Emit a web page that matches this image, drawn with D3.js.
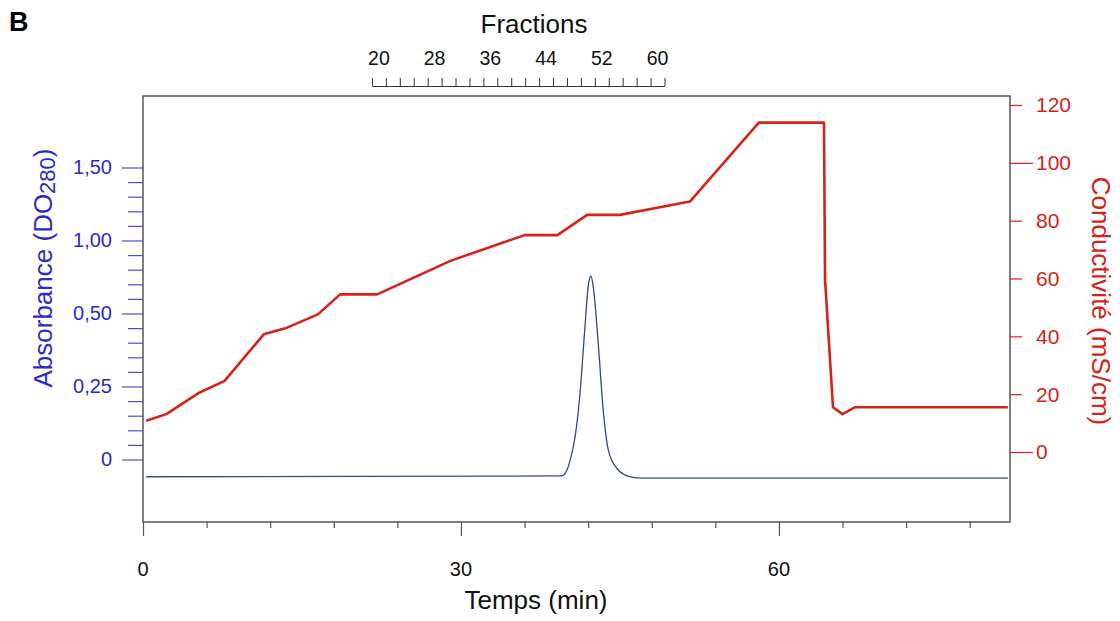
<!DOCTYPE html>
<html>
<head>
<meta charset="utf-8">
<script src="https://cdn.jsdelivr.net/npm/d3@7"></script>
<style>
  body { margin: 0; background: #fff; }
  svg { display: block; font-family: "Liberation Sans", Arial, sans-serif; }
</style>
</head>
<body>
<div id="chart"></div>
<script>
// conductivity trace (mS/cm) against time (min)
var condTime  = [0.3, 2.2, 5.2, 7.7, 11.4, 13.6, 16.5, 18.6, 22.1, 29.0, 36.0, 39.1, 41.9, 45.0, 51.6, 58.1, 64.25, 64.35, 65.1, 66.0, 67.2, 81.6];
var condValue = [10.8, 13.1, 20.3, 24.6, 40.7, 43.0, 47.6, 54.5, 54.5, 66.1, 75.0, 75.0, 82.0, 82.0, 86.6, 113.9, 113.9, 59.5, 15.5, 13.1, 15.5, 15.5];

// absorbance trace (DO280) against time (min)
var absTime  = [0.3, 20.0, 39.5, 40.0, 40.3, 40.6, 40.9, 41.23, 41.7, 42.0, 42.26, 42.48, 42.95, 43.42, 43.9, 44.7, 45.9, 46.9, 81.6];
var absValue = [-0.059, -0.058, -0.056, -0.036, -0.002, 0.044, 0.112, 0.227, 0.455, 0.684, 0.757, 0.684, 0.398, 0.170, 0.033, -0.030, -0.059, -0.064, -0.064];

var timeTicks = [0, 6, 12, 18, 24, 30, 36, 42, 48, 54, 60, 66, 72, 78];
var timeLabels = [0, 30, 60];

var absTickValues = [0, 0.25, 0.5, 1, 1.5];
var absTickLabels = ["0", "0,25", "0,50", "1,00", "1,50"];

var condTicks = [0, 20, 40, 60, 80, 100, 120];
var condLongTicks = [0, 100];

var fractionTicks = [19, 21, 23, 25, 27, 29, 31, 33, 35, 37, 39, 41, 43, 45, 47, 49, 51, 53, 55, 57, 59, 61];
var fractionLabels = [20, 28, 36, 44, 52, 60];
var fractionRange = [21.6, 49.2]; // time (min) covered by fractions 19..61

var blue = "#2b2bc8", blueTick = "#4c4cd8", red = "#d42318", gray = "#555";

var svg = d3.select("#chart")
    .append("svg")
    .attr("width", 1120)
    .attr("height", 621);

var x = d3.scaleLinear().domain([0, 81.8]).range([143, 1010]);
// the printed absorbance axis is not evenly spaced, so the scale is piecewise
var yAbs = d3.scaleLinear().domain(absTickValues).range([459.5, 386.5, 313.5, 240.5, 167.5]);
var yCond = d3.scaleLinear().domain([0, 120]).range([452, 105]);
var xFrac = d3.scaleLinear().domain([19, 61]).range([x(fractionRange[0]), x(fractionRange[1])]);

var plotTop = 96, plotBottom = 522;

// frame
svg.append("rect")
    .attr("x", x.range()[0])
    .attr("y", plotTop)
    .attr("width", x.range()[1] - x.range()[0])
    .attr("height", plotBottom - plotTop)
    .attr("fill", "none")
    .attr("stroke", gray)
    .attr("stroke-width", 1.5);

// bottom time axis
var minorTime = timeTicks.filter(d => timeLabels.indexOf(d) < 0);
svg.append("g")
    .attr("transform", "translate(0," + plotBottom + ")")
    .call(d3.axisBottom(x).tickValues(minorTime).tickSize(6).tickSizeOuter(0).tickFormat(""))
    .call(g => g.select(".domain").remove());
svg.append("g")
    .attr("transform", "translate(0," + plotBottom + ")")
    .call(d3.axisBottom(x).tickValues(timeLabels).tickSize(14).tickSizeOuter(0).tickFormat(""))
    .call(g => g.select(".domain").remove());
svg.selectAll(".tick line").attr("stroke", gray).attr("stroke-width", 1.2);

svg.selectAll(".tlab")
    .data(timeLabels)
    .enter()
    .append("text")
    .attr("x", d => x(d))
    .attr("y", 576)
    .attr("text-anchor", "middle")
    .attr("font-size", 20)
    .attr("fill", "#111")
    .text(d => d);

svg.append("text")
    .attr("x", 536)
    .attr("y", 609)
    .attr("text-anchor", "middle")
    .attr("font-size", 26)
    .attr("fill", "#111")
    .text("Temps (min)");

// left absorbance axis
var absMinor = [];
for (var i = 0; i < absTickValues.length - 1; i++) {
    for (var k = 1; k < 5; k++) {
        absMinor.push(absTickValues[i] + (absTickValues[i + 1] - absTickValues[i]) * k / 5);
    }
}
var leftMinor = svg.append("g")
    .attr("transform", "translate(" + x.range()[0] + ",0)")
    .call(d3.axisLeft(yAbs).tickValues(absMinor).tickSize(15).tickSizeOuter(0).tickFormat(""));
leftMinor.select(".domain").remove();
leftMinor.selectAll("line").attr("stroke", blueTick).attr("stroke-width", 1.2);

var leftMajor = svg.append("g")
    .attr("transform", "translate(" + x.range()[0] + ",0)")
    .call(d3.axisLeft(yAbs).tickValues(absTickValues).tickSize(21).tickPadding(10).tickSizeOuter(0)
        .tickFormat((d, i) => absTickLabels[i]));
leftMajor.select(".domain").remove();
leftMajor.selectAll("line").attr("stroke", blueTick).attr("stroke-width", 1.2);
leftMajor.selectAll("text")
    .attr("font-size", 20)
    .attr("font-family", "Liberation Sans, Arial, sans-serif")
    .attr("fill", blue);

var absTitle = svg.append("text")
    .attr("transform", "translate(43,268) rotate(-90)")
    .attr("text-anchor", "middle")
    .attr("dominant-baseline", "central")
    .attr("font-size", 26)
    .attr("fill", blue);
absTitle.append("tspan").text("Absorbance (DO");
absTitle.append("tspan").attr("font-size", 22).attr("dy", 4).text("280");
absTitle.append("tspan").attr("dy", -4).text(")");

// right conductivity axis
var rightAxis = svg.append("g")
    .attr("transform", "translate(" + x.range()[1] + ",0)")
    .call(d3.axisRight(yCond).tickValues(condTicks).tickSize(12).tickSizeOuter(0).tickFormat(""));
rightAxis.select(".domain").remove();
rightAxis.selectAll(".tick line")
    .attr("x2", d => condLongTicks.indexOf(d) >= 0 ? 23 : 12)
    .attr("stroke", red)
    .attr("stroke-width", 1.2);

svg.selectAll(".clab")
    .data(condTicks)
    .enter()
    .append("text")
    .attr("x", 1036)
    .attr("y", d => yCond(d))
    .attr("dy", "0.35em")
    .attr("font-size", 21)
    .attr("fill", red)
    .text(d => d);

svg.append("text")
    .attr("transform", "translate(1101,301) rotate(90)")
    .attr("text-anchor", "middle")
    .attr("dominant-baseline", "central")
    .attr("font-size", 26)
    .attr("fill", red)
    .text("Conductivité (mS/cm)");

// top fractions axis
var fracAxis = svg.append("g")
    .attr("transform", "translate(0,86)")
    .call(d3.axisTop(xFrac).tickValues(fractionTicks).tickSize(8).tickSizeOuter(0).tickFormat(""));
fracAxis.selectAll("line, path").attr("stroke", "#333").attr("stroke-width", 1);

svg.selectAll(".flab")
    .data(fractionLabels)
    .enter()
    .append("text")
    .attr("x", d => xFrac(d))
    .attr("y", 65)
    .attr("text-anchor", "middle")
    .attr("font-size", 19.5)
    .attr("fill", "#111")
    .text(d => d);

svg.append("text")
    .attr("x", 534)
    .attr("y", 33)
    .attr("text-anchor", "middle")
    .attr("font-size", 26)
    .attr("fill", "#111")
    .text("Fractions");

svg.append("text")
    .attr("x", 9)
    .attr("y", 31)
    .attr("font-size", 27)
    .attr("font-weight", "bold")
    .attr("fill", "#000")
    .text("B");

// traces
var absData = absTime.map((t, i) => ({ t: t, v: absValue[i] }));
var condData = condTime.map((t, i) => ({ t: t, v: condValue[i] }));

svg.append("path")
    .datum(absData)
    .attr("fill", "none")
    .attr("stroke", "#34488c")
    .attr("stroke-width", 1.3)
    .attr("d", d3.line().x(d => x(d.t)).y(d => yAbs(d.v)).curve(d3.curveMonotoneX));

svg.append("path")
    .datum(condData)
    .attr("fill", "none")
    .attr("stroke", red)
    .attr("stroke-width", 2.6)
    .attr("stroke-linejoin", "round")
    .attr("d", d3.line().x(d => x(d.t)).y(d => yCond(d.v)));
</script>
</body>
</html>
